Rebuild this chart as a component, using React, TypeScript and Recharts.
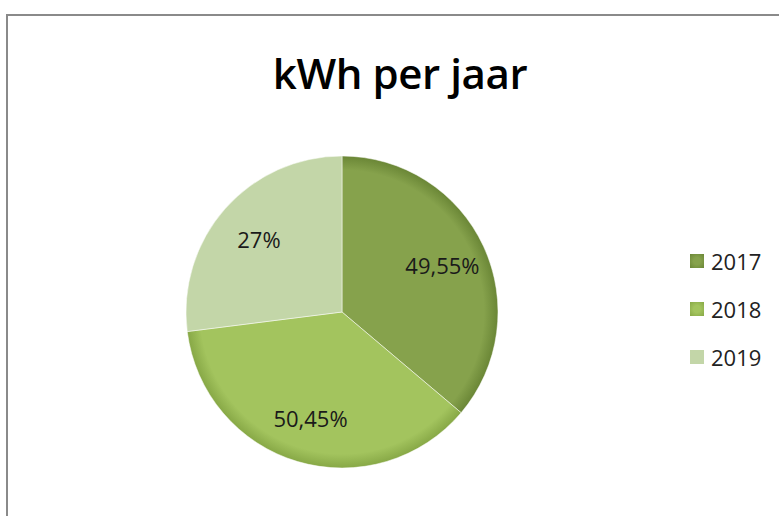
import React from "react";
import { PieChart, Pie, Cell } from "recharts";

const years = ["2017", "2018", "2019"];
const shares = [36.17, 36.83, 27.0];
const labelTexts = ["49,55%", "50,45%", "27%"];
const colors = ["#86A24C", "#A3C45E", "#C3D6A8"];
const edgeColors = ["#6A8636", "#87A846", "#C3D6A8"];

const data = years.map((y, i) => ({ name: y, value: shares[i], label: labelTexts[i] }));

const RAD = Math.PI / 180;
const FONT = "'Open Sans', 'Noto Sans', sans-serif";

const renderLabel = (props: any) => {
  const { cx, cy, midAngle, outerRadius, index } = props;
  const r = outerRadius * 0.71;
  const x = cx + r * Math.cos(-midAngle * RAD);
  const y = cy + r * Math.sin(-midAngle * RAD);
  return (
    <text
      x={x}
      y={y}
      textAnchor="middle"
      dominantBaseline="central"
      fill="#1a1a1a"
      fontSize={22}
      fontFamily={FONT}
    >
      {labelTexts[index]}
    </text>
  );
};

export default function App() {
  return (
    <div style={{ position: "absolute", left: 0, top: 0, width: 779, height: 516, background: "#fff", overflow: "hidden" }}>
      <div
        style={{
          position: "absolute",
          left: 6,
          top: 14,
          width: 800,
          height: 520,
          borderLeft: "2px solid #8a8a8a",
          borderTop: "2px solid #8a8a8a",
        }}
      />
      <div
        style={{
          position: "absolute",
          left: 0,
          top: 44,
          width: 800,
          textAlign: "center",
          fontFamily: FONT,
          fontWeight: 600,
          fontSize: 42,
          color: "#000",
          letterSpacing: -0.4,
        }}
      >
        kWh per jaar
      </div>
      <div style={{ position: "absolute", left: 0, top: 0 }}>
        <PieChart width={779} height={516} margin={{ top: 0, right: 0, bottom: 0, left: 0 }}>
          <defs>
            {colors.map((c, i) => (
              <radialGradient key={i} id={`g${i}`} gradientUnits="userSpaceOnUse" cx={342} cy={312} r={156}>
                <stop offset="0%" stopColor={c} />
                <stop offset="91%" stopColor={c} />
                <stop offset="100%" stopColor={edgeColors[i]} />
              </radialGradient>
            ))}
          </defs>
          <Pie
            data={data}
            dataKey="value"
            nameKey="name"
            cx={342}
            cy={312}
            outerRadius={156}
            startAngle={90}
            endAngle={-270}
            isAnimationActive={false}
            label={renderLabel}
            labelLine={false}
            stroke="#ffffff"
            strokeWidth={0.5}
          >
            {data.map((d, i) => (
              <Cell key={d.name} fill={`url(#g${i})`} />
            ))}
          </Pie>
        </PieChart>
      </div>
      <div
        style={{
          position: "absolute",
          left: 690,
          top: 237,
          fontFamily: FONT,
          fontSize: 22,
          color: "#222",
        }}
      >
        {years.map((y, i) => (
          <div key={y} style={{ display: "flex", alignItems: "center", height: 48 }}>
            <span
              style={{
                display: "inline-block",
                width: 14,
                height: 14,
                marginRight: 7,
                background:
                  i < 2
                    ? `radial-gradient(circle, ${colors[i]} 35%, ${edgeColors[i]} 100%)`
                    : colors[i],
              }}
            />
            <span>{y}</span>
          </div>
        ))}
      </div>
    </div>
  );
}
